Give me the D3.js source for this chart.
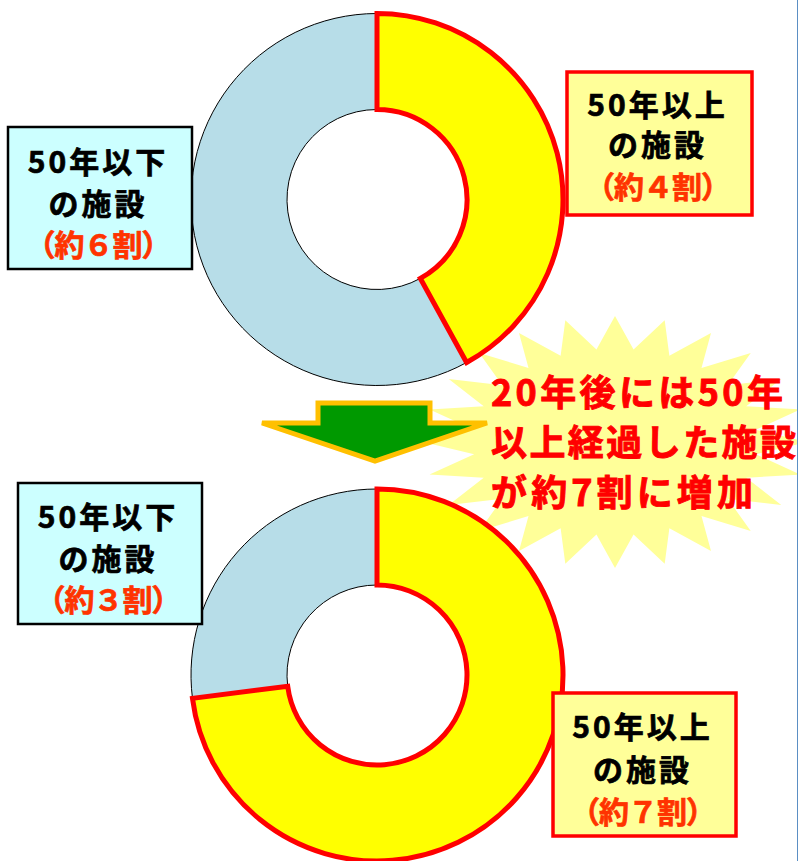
<!DOCTYPE html>
<html>
<head>
<meta charset="utf-8">
<script src="https://cdn.jsdelivr.net/npm/d3@7"></script>
<style>
  body { margin: 0; background: #fff; }
  text { font-family: "Noto Sans CJK JP", "Noto Sans", sans-serif; font-weight: bold; }
</style>
</head>
<body>
<div id="chart-area"></div>
<script>
const width = 798;
const height = 861;

// data
const categories = ["50年以上", "50年以下"];      // yellow first, from 12 o'clock
const shareNow = [0.42, 0.58];
const shareLater = [0.73, 0.27];
const roughNow = ["（約４割）", "（約６割）"];
const roughLater = ["（約７割）", "（約３割）"];
const subLabel = "の施設";
const calloutLines = ["20年後には50年", "以上経過した施設", "が約7割に増加"];

const sliceFill = ["#ffff00", "#b7dde8"];
const sliceStroke = ["#ff0000", "#000"];
const sliceStrokeW = [5, 1];

const svg = d3.select('#chart-area')
  .append('svg')
  .attr('width', width)
  .attr('height', height);

// starburst behind everything
const star = {cx: 615, cy: 442, rx: 192, ry: 126, n: 24, inner: 0.74};
const starPts = d3.range(star.n * 2).map(i => {
  const a = i * Math.PI / star.n;
  const k = i % 2 ? star.inner : 1;
  return [star.cx + star.rx * k * Math.sin(a), star.cy - star.ry * k * Math.cos(a)];
});
svg.append('polygon')
  .attr('points', starPts.map(p => p.join(',')).join(' '))
  .attr('fill', '#ffff99');

// donuts
const pie = d3.pie().sort(null).value(d => d);
const arc = d3.arc().innerRadius(90).outerRadius(186);

function donut(values, cx, cy) {
  const g = svg.append('g').attr('transform', `translate(${cx}, ${cy})`);
  const arcs = pie(values);
  // blue first so the red outline sits on top
  [1, 0].forEach(i => {
    g.append('path')
      .attr('d', arc(arcs[i]))
      .attr('fill', sliceFill[i])
      .attr('stroke', sliceStroke[i])
      .attr('stroke-width', sliceStrokeW[i])
      .attr('stroke-linejoin', 'miter');
  });
}
donut(shareNow, 377, 199.5);
donut(shareLater, 377, 675);

// arrow
const arrowPts = [[318,403],[430,403],[430,423],[487,423],[375,461],[262,423],[318,423]];
svg.append('polygon')
  .attr('points', arrowPts.map(p => p.join(',')).join(' '))
  .attr('fill', '#009900')
  .attr('stroke', '#ffc000')
  .attr('stroke-width', 5)
  .attr('stroke-linejoin', 'miter');

// label boxes
function labelBox(x0, y0, x1, y1, fill, stroke, sw, lines, lineY) {
  svg.append('rect')
    .attr('x', x0).attr('y', y0)
    .attr('width', x1 - x0).attr('height', y1 - y0)
    .attr('fill', fill)
    .attr('stroke', stroke)
    .attr('stroke-width', sw);
  const cx = (x0 + x1) / 2 - 2;
  lines.forEach((t, i) => {
    const col = i == 2 ? '#ff3300' : '#000';
    svg.append('text')
      .attr('x', cx)
      .attr('y', y0 + lineY[i])
      .attr('text-anchor', 'middle')
      .attr('dominant-baseline', 'central')
      .attr('font-size', 30)
      .attr('letter-spacing', i == 2 ? -1 : 3)
      .attr('fill', col)
      .attr('stroke', col)
      .attr('stroke-width', 0.7)
      .text(t);
  });
}
labelBox(8, 127, 192, 269, '#ccffff', '#000', 2.5, [categories[1], subLabel, roughNow[1]], [33, 75, 116]);
labelBox(567, 72, 752, 215, '#ffff99', '#ff0000', 3.5, [categories[0], subLabel, roughNow[0]], [31, 71, 113]);
labelBox(18, 483, 202, 624, '#ccffff', '#000', 2.5, [categories[1], subLabel, roughLater[1]], [32, 74, 115]);
labelBox(553, 693, 736, 836, '#ffff99', '#ff0000', 3.5, [categories[0], subLabel, roughLater[0]], [32, 75, 117]);

// callout text
const calloutW = [292, 305, 262];
calloutLines.forEach((t, i) => {
  svg.append('text')
    .attr('x', 491)
    .attr('y', 390 + i * 50)
    .attr('dominant-baseline', 'central')
    .attr('font-size', 36)
    .attr('fill', '#ff0000')
    .attr('stroke', '#ff0000')
    .attr('stroke-width', 0.9)
    .attr('textLength', calloutW[i])
    .attr('lengthAdjust', 'spacing')
    .text(t);
});

// thin frame line on the right edge
svg.append('line')
  .attr('x1', 797.5).attr('x2', 797.5)
  .attr('y1', 0).attr('y2', height)
  .attr('stroke', '#5b8fc4')
  .attr('stroke-width', 1);
</script>
</body>
</html>
